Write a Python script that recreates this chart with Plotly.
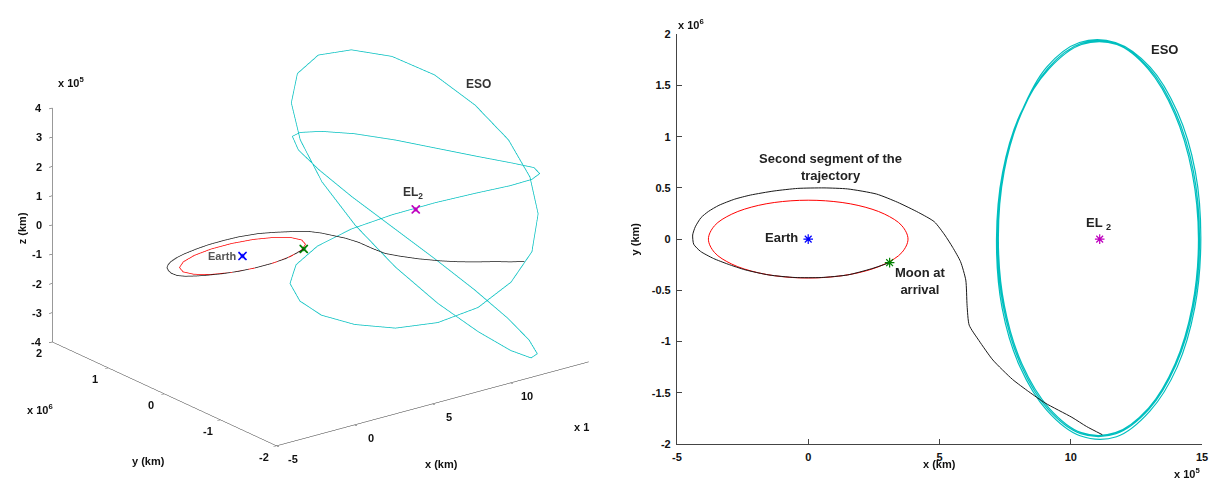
import plotly.graph_objects as go

# ---------------- data (x in 1e5 km, y in 1e6 km, z in 1e5 km) ----------------
moon_orbit_x = [3.80, 3.57, 2.91, 1.90, 0.66, -0.66, -1.90, -2.91, -3.57, -3.80,
                -3.57, -2.91, -1.90, -0.66, 0.66, 1.90, 2.91, 3.57, 3.80]
moon_orbit_y = [0.0, 0.13, 0.244, 0.329, 0.374, 0.374, 0.329, 0.244, 0.13, 0.0,
                -0.13, -0.244, -0.329, -0.374, -0.374, -0.329, -0.244, -0.13, 0.0]
moon_orbit_z = [0.0, 0.0, 0.0, 0.0, 0.0, 0.0, 0.0, 0.0, 0.0, 0.0,
                0.0, 0.0, 0.0, 0.0, 0.0, 0.0, 0.0, 0.0, 0.0]

traj_x = [3.10, 2.40, 1.50, 0.50, -0.50, -1.50, -2.40, -3.05, -3.60, -4.10,
          -4.36, -4.40, -4.30, -4.08, -3.80, -3.40, -2.80, -2.20, -1.30, -0.40,
          0.60, 1.50, 2.60, 3.40, 4.20, 4.80, 5.20, 5.50, 5.80, 6.00,
          6.05, 6.13, 6.50, 7.03, 7.78, 8.40, 9.02, 10.04, 10.60, 11.20]
traj_y = [-0.23, -0.29, -0.35, -0.375, -0.375, -0.35, -0.30, -0.245, -0.19, -0.12,
          -0.05, 0.04, 0.12, 0.21, 0.27, 0.33, 0.39, 0.43, 0.47, 0.495,
          0.50, 0.49, 0.44, 0.36, 0.26, 0.17, 0.04, -0.08, -0.22, -0.40,
          -0.65, -0.84, -0.99, -1.18, -1.37, -1.49, -1.60, -1.74, -1.83, -1.91]
traj_z = [0.0, 0.0, 0.0, 0.0, 0.0, 0.0, 0.0, 0.0, 0.0, 0.0,
          0.0, 0.0, 0.0, 0.0, 0.0, 0.0, 0.0, 0.0, 0.0, 0.0,
          0.0, 0.0, 0.0, 0.0, 0.0, 0.0, 0.0, -0.02, -0.03, -0.04,
          -0.05, -0.05, -0.06, -0.06, -0.07, -0.08, -0.08, -0.09, -0.10, -0.10]

eso_x = [9.13, 10.38, 11.72, 12.98, 14.00, 14.67, 14.90, 14.67, 14.00, 12.98,
         11.72, 10.38, 9.13, 8.10, 7.43, 7.20, 7.43, 8.10,
         9.08, 10.33, 11.70, 13.02, 14.06, 14.74, 14.95, 14.72, 14.05, 13.01,
         11.74, 10.35, 9.08, 8.05, 7.38, 7.17, 7.40, 8.07,
         9.16, 10.41, 11.75, 12.95, 13.96, 14.62, 14.86, 14.63, 13.97, 12.96,
         11.70, 10.40, 9.17, 8.14, 7.47, 7.24, 7.46, 8.12, 9.13]
eso_y = [1.67, 1.91, 1.91, 1.67, 1.23, 0.66, 0.00, -0.66, -1.23, -1.66,
         -1.90, -1.90, -1.66, -1.23, -0.66, 0.00, 0.66, 1.23,
         1.68, 1.92, 1.92, 1.68, 1.24, 0.66, 0.00, -0.67, -1.25, -1.68,
         -1.93, -1.92, -1.67, -1.24, -0.67, 0.00, 0.65, 1.22,
         1.66, 1.90, 1.90, 1.66, 1.22, 0.65, 0.00, -0.65, -1.22, -1.65,
         -1.89, -1.89, -1.65, -1.22, -0.65, 0.00, 0.66, 1.23, 1.67]
eso_z = [2.44, 3.05, 3.49, 3.70, 3.72, 3.50, 3.02, 2.45, 1.78, 1.05,
         0.15, -0.70, -1.60, -2.35, -2.95, -3.38, -3.68, -3.80,
         -3.74, -3.49, -3.05, -2.44, -1.71, -0.88, 0.00, 0.88, 1.71, 2.44,
         3.05, 3.40, 3.58, 3.62, 3.50, 3.15, 2.62, 1.98,
         1.30, 0.44, -0.44, -1.30, -2.09, -2.76, -3.29, -3.64, -3.79, -3.74,
         -3.49, -3.05, -2.44, -1.71, -0.88, 0.00, 0.88, 1.71, 2.44]

points_name = ["Earth", "Moon", "EL2"]
points_x = [0.0, 3.10, 11.10]
points_y = [0.0, -0.23, 0.0]
points_z = [0.0, 0.0, 0.0]
points_color = ["#0000FF", "#008000", "#BF00BF"]

x3_ticks = [-5, 0, 5, 10]
y3_ticks = [-2, -1, 0, 1, 2]
z3_ticks = [-4, -3, -2, -1, 0, 1, 2, 3, 4]
x2_ticks = [-5, 0, 5, 10, 15]
y2_ticks = [-2, -1.5, -1, -0.5, 0, 0.5, 1, 1.5, 2]
y2_ticktext = ["-2", "-1.5", "-1", "-0.5", "0", "0.5", "1", "1.5", "2"]

X3_RANGE = [-5, 15]
Y3_RANGE = [-2, 2]
Z3_RANGE = [-4, 4]

C_ESO = "#00BFBF"
C_MOON = "#FF0000"
C_TRAJ = "#1a1a1a"
FONT = "Liberation Sans"
W, H = 1223, 487

fig = go.Figure()

# ---------------- 3D panel ----------------
fig.add_trace(go.Scatter3d(x=eso_x, y=eso_y, z=eso_z, mode="lines",
                           line=dict(color=C_ESO, width=1.5), scene="scene", showlegend=False))
fig.add_trace(go.Scatter3d(x=moon_orbit_x, y=moon_orbit_y, z=moon_orbit_z, mode="lines",
                           line=dict(color=C_MOON, width=1.5), scene="scene", showlegend=False))
fig.add_trace(go.Scatter3d(x=traj_x, y=traj_y, z=traj_z, mode="lines",
                           line=dict(color=C_TRAJ, width=1.5), scene="scene", showlegend=False))
for sym, sz in [("cross", 2.6), ("x", 2.0)]:
    fig.add_trace(go.Scatter3d(x=points_x, y=points_y, z=points_z, mode="markers",
                               marker=dict(symbol=sym, size=sz, color=points_color),
                               scene="scene", showlegend=False))

# ---------------- 2D panel ----------------
fig.add_trace(go.Scatter(x=eso_x, y=eso_y, mode="lines",
                         line=dict(color=C_ESO, width=1.2, shape="spline", smoothing=1.0),
                         xaxis="x", yaxis="y", showlegend=False))
fig.add_trace(go.Scatter(x=moon_orbit_x, y=moon_orbit_y, mode="lines",
                         line=dict(color=C_MOON, width=1, shape="spline", smoothing=1.0),
                         xaxis="x", yaxis="y", showlegend=False))
fig.add_trace(go.Scatter(x=traj_x, y=traj_y, mode="lines",
                         line=dict(color=C_TRAJ, width=1, shape="spline", smoothing=0.6),
                         xaxis="x", yaxis="y", showlegend=False))
fig.add_trace(go.Scatter(x=points_x, y=points_y, mode="markers",
                         marker=dict(symbol="asterisk-open", size=8, color=points_color,
                                     line=dict(width=1.2, color=points_color)),
                         xaxis="x", yaxis="y", showlegend=False))

tickfont = dict(family=FONT, size=11, color="#111111", weight="bold")
ax3 = dict(showgrid=False, showbackground=False, zeroline=False, showline=True,
           linecolor="#333333", linewidth=1, ticks="inside", ticklen=4, tickcolor="#333333",
           showticklabels=False, title=dict(text=""), showspikes=False)

# tick labels of the 3D box, anchored on the box edges through the scene's own projection
scene_notes = []
for t in z3_ticks:
    scene_notes.append(dict(x=X3_RANGE[0], y=Y3_RANGE[1], z=t, text=str(t), xanchor="right",
                            yanchor="middle", xshift=-8, yshift=0))
for t in y3_ticks:
    scene_notes.append(dict(x=X3_RANGE[0], y=t, z=Z3_RANGE[0], text=str(t), xanchor="center",
                            yanchor="middle", xshift=-13, yshift=-11))
for t in x3_ticks:
    scene_notes.append(dict(x=t, y=Y3_RANGE[0], z=Z3_RANGE[0], text=str(t), xanchor="center",
                            yanchor="middle", xshift=16, yshift=-13))
for a in scene_notes:
    a.update(showarrow=False, font=tickfont)
scene_notes += [
    dict(x=0, y=0, z=0, text="Earth", showarrow=False, xanchor="right", xshift=-4,
         font=dict(family=FONT, size=11, color="#555555", weight="bold")),
    dict(x=11.1, y=0, z=0, text="EL<sub>2</sub>", showarrow=False, xanchor="center",
         yshift=16, xshift=-3, font=dict(family=FONT, size=12, color="#333333", weight="bold")),
]

eye_dir = (-0.567, -0.744, 0.353)
dist = 2.116
cz = -0.005
zoom = 1.087
scene = dict(
    domain=dict(x=[0.0, 0.5207], y=[0.0308, 1.0]),
    xaxis=dict(ax3, range=X3_RANGE, tickvals=x3_ticks),
    yaxis=dict(ax3, range=Y3_RANGE, tickvals=y3_ticks),
    zaxis=dict(ax3, range=Z3_RANGE, tickvals=z3_ticks),
    aspectmode="manual", aspectratio=dict(x=1.57 * zoom, y=1.48 * zoom, z=1.0 * zoom),
    camera=dict(eye=dict(x=eye_dir[0] * dist, y=eye_dir[1] * dist, z=eye_dir[2] * dist + cz),
                up=dict(x=0, y=0, z=1), center=dict(x=0, y=0, z=cz),
                projection=dict(type="orthographic")),
    bgcolor="white",
    annotations=scene_notes,
)


def px(xp):
    return xp / W


def py(yp):
    return 1 - yp / H


lab = dict(family=FONT, size=11, color="#111111", weight="bold")
txt = dict(family=FONT, size=13, color="#222222", weight="bold")
annotations = [
    # 3D panel labels
    dict(x=px(67), y=py(78), text="x 10<sup>5</sup>", font=lab),
    dict(x=px(18), y=py(228), text="z (km)", textangle=-90, font=lab),
    dict(x=px(35), y=py(413), text="x 10<sup>6</sup>", font=lab),
    dict(x=px(145), y=py(466), text="y (km)", font=lab),
    dict(x=px(440), y=py(470), text="x (km)", font=lab),
    dict(x=px(572), y=py(432), text="x 1", font=lab, xanchor="left"),
    dict(x=px(478), y=py(80), text="ESO", font=dict(family=FONT, size=12, color="#333333", weight="bold")),
    # 2D panel labels
    dict(x=px(692), y=py(18), text="x 10<sup>6</sup>", font=lab),
    dict(x=px(636), y=py(239), text="y (km)", textangle=-90, font=lab),
    dict(x=px(943), y=py(470), text="x (km)", font=lab),
    dict(x=px(1193), y=py(479), text="x 10<sup>5</sup>", font=lab),
]
for a in annotations:
    a.update(xref="paper", yref="paper", showarrow=False)
    a.setdefault("xanchor", "center")
    a.setdefault("yanchor", "middle")

data_notes = [
    dict(x=0.86, y=0.70, text="Second segment of the<br>trajectory", xanchor="center"),
    dict(x=-0.3, y=0.02, text="Earth", xanchor="right"),
    dict(x=4.25, y=-0.41, text="Moon at<br>arrival", xanchor="center"),
    dict(x=11.05, y=0.15, text="EL <sub>2</sub>", xanchor="center"),
    dict(x=13.57, y=1.85, text="ESO", xanchor="center"),
]
for a in data_notes:
    a.update(xref="x", yref="y", showarrow=False, yanchor="middle", font=txt)
    annotations.append(a)

ax2 = dict(showgrid=False, zeroline=False, showline=True, linecolor="#444444", linewidth=1,
           ticks="inside", ticklen=5, tickwidth=1, tickcolor="#444444", tickfont=tickfont,
           mirror=False, fixedrange=True)

fig.update_layout(
    width=W, height=H, margin=dict(l=0, r=0, t=0, b=0),
    paper_bgcolor="white", plot_bgcolor="white",
    scene=scene,
    xaxis=dict(ax2, domain=[678 / W, 1208 / W], range=[-5, 15], tickvals=x2_ticks,
               ticktext=[str(v) for v in x2_ticks], anchor="y", ticklabelstandoff=3),
    yaxis=dict(ax2, domain=[1 - 449 / H, 1 - 29 / H], range=[-2, 2], tickvals=y2_ticks,
               ticktext=y2_ticktext, anchor="x", ticklabelstandoff=3),
    annotations=annotations,
    hovermode=False,
    showlegend=False,
)

fig.write_html("out.html")
